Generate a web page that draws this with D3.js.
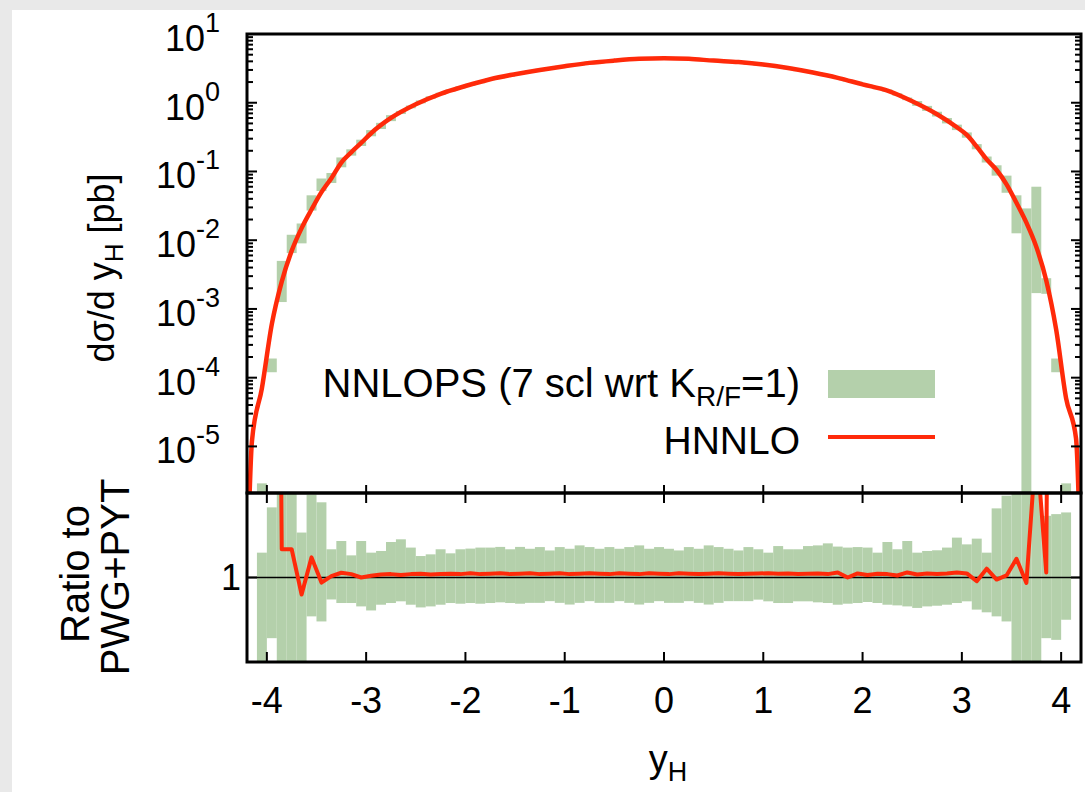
<!DOCTYPE html>
<html>
<head>
<meta charset="utf-8">
<title>Higgs rapidity, NNLOPS vs HNNLO</title>
<script src="https://cdnjs.cloudflare.com/ajax/libs/d3/7.8.5/d3.min.js"></script>
<style>
  body{margin:0;background:#e9e9e9;}
  svg{display:block;}
  text{font-family:"Liberation Sans",Arial,Helvetica,sans-serif;fill:#000;}
</style>
</head>
<body>
<div id="chart"></div>
<script>
// bins of y_H (left edges, width 0.1)
var binLo = [
  -4.2,-4.1,-4.0,-3.9,-3.8,-3.7,-3.6,-3.5,-3.4,-3.3,
  -3.2,-3.1,-3.0,-2.9,-2.8,-2.7,-2.6,-2.5,-2.4,-2.3,
  -2.2,-2.1,-2.0,-1.9,-1.8,-1.7,-1.6,-1.5,-1.4,-1.3,
  -1.2,-1.1,-1.0,-0.9,-0.8,-0.7,-0.6,-0.5,-0.4,-0.3,
  -0.2,-0.1, 0.0, 0.1, 0.2, 0.3, 0.4, 0.5, 0.6, 0.7,
   0.8, 0.9, 1.0, 1.1, 1.2, 1.3, 1.4, 1.5, 1.6, 1.7,
   1.8, 1.9, 2.0, 2.1, 2.2, 2.3, 2.4, 2.5, 2.6, 2.7,
   2.8, 2.9, 3.0, 3.1, 3.2, 3.3, 3.4, 3.5, 3.6, 3.7,
   3.8, 3.9, 4.0, 4.1];
var binW = 0.1;

// NNLOPS scale band, dsigma/dy [pb]
var nnlopsLo = [
  null,1e-9,1.2e-4,1.26e-3,6.5e-3,9e-3,0.027,0.052,0.068,0.115,
  0.17,0.235,0.325,0.415,0.54,0.685,0.83,0.98,1.14,1.3,
  1.45,1.6,1.76,1.92,2.11,2.26,2.4,2.57,2.73,2.88,
  3.02,3.19,3.34,3.48,3.65,3.74,3.87,3.98,4.08,4.18,
  4.22,4.26,4.26,4.22,4.18,4.08,3.98,3.89,3.79,3.74,
  3.55,3.46,3.31,3.19,3.07,2.88,2.74,2.54,2.37,2.21,
  2.02,1.87,1.71,1.57,1.44,1.27,1.09,0.9,0.76,0.63,
  0.5,0.4,0.31,0.21,0.135,0.087,0.049,0.0126,1e-9,1.7e-3,
  1.66e-3,1.2e-4,1e-9,null];
var nnlopsHi = [
  null,2.9e-6,1.9e-4,5e-3,0.012,0.0175,0.045,0.079,0.095,0.16,
  0.21,0.29,0.40,0.51,0.66,0.76,0.91,1.08,1.24,1.4,
  1.57,1.74,1.9,2.08,2.29,2.44,2.6,2.79,2.95,3.12,
  3.28,3.45,3.62,3.76,3.95,4.06,4.19,4.32,4.42,4.52,
  4.58,4.62,4.62,4.58,4.52,4.42,4.32,4.21,4.11,4.06,
  3.85,3.74,3.59,3.45,3.33,3.12,2.96,2.76,2.57,2.39,
  2.18,2.03,1.85,1.71,1.56,1.37,1.19,1.06,0.9,0.74,
  0.6,0.48,0.37,0.25,0.165,0.123,0.087,0.045,0.029,0.06,
  2.8e-3,1.9e-4,2.9e-6,null];

// HNNLO curve, dsigma/dy [pb]
var hnnloY = [-4.2,-4.15,-4.05,-3.95,-3.85,-3.75,-3.65,-3.55,-3.45,-3.35,-3.25,-3.15,-3.05,-2.95,
  -2.75,-2.5,-2.25,-2,-1.75,-1.5,-1.25,-1,-0.75,-0.5,-0.25,0,0.25,0.5,0.75,1,1.25,1.5,1.75,2,2.25,2.5,2.75,
  2.95,3.05,3.15,3.25,3.35,3.45,3.55,3.65,3.75,3.85,3.95,4.05,4.15,4.2];
var hnnloV = [1e-7,1.2e-5,7e-5,6e-4,2.5e-3,7e-3,0.015,0.028,0.05,0.08,0.135,0.19,0.26,0.36,
  0.6,0.95,1.35,1.75,2.2,2.6,3.0,3.4,3.8,4.1,4.35,4.45,4.35,4.1,3.9,3.6,3.2,2.75,2.3,1.85,1.5,1.05,0.68,
  0.44,0.34,0.23,0.15,0.105,0.065,0.035,0.018,8e-3,2.6e-3,5e-4,5e-5,1.3e-5,1e-7];

// ratio to PWG+PYT: NNLOPS band and HNNLO (bin centres)
var ratioLo = [
  null,0,0.641,0,0,0,0.77,0.74,0.87,0.849,
  0.849,0.829,0.805,0.839,0.849,0.859,0.839,0.823,0.829,0.839,
  0.849,0.845,0.849,0.845,0.849,0.853,0.849,0.845,0.85,0.85,
  0.86,0.85,0.84,0.85,0.86,0.85,0.85,0.86,0.85,0.84,
  0.85,0.86,0.85,0.85,0.86,0.85,0.84,0.85,0.86,0.86,
  0.86,0.869,0.859,0.849,0.849,0.859,0.859,0.853,0.849,0.839,
  0.845,0.849,0.855,0.849,0.839,0.835,0.829,0.82,0.829,0.833,
  0.839,0.849,0.859,0.81,0.794,0.77,0.74,0,0,0,
  0.641,0.631,0.75,null];
var ratioHi = [
  null,1.147,1.415,2,2,1.266,1.49,1.445,1.167,1.216,
  1.131,1.216,1.147,1.157,1.21,1.226,1.177,1.127,1.137,1.167,
  1.143,1.167,1.171,1.177,1.177,1.181,1.167,1.181,1.17,1.18,
  1.16,1.18,1.17,1.19,1.18,1.17,1.18,1.17,1.18,1.19,
  1.17,1.18,1.17,1.16,1.18,1.17,1.19,1.18,1.17,1.16,
  1.18,1.167,1.147,1.186,1.167,1.167,1.186,1.19,1.202,1.183,
  1.177,1.18,1.177,1.147,1.21,1.167,1.216,1.147,1.157,1.161,
  1.177,1.236,1.196,1.23,1.147,1.409,1.484,2,2,2,
  1.365,1.375,1.385,null];
var ratioHnnlo = [
  8,8,8,1.167,1.167,0.899,1.119,0.97,1.008,1.028,
  1.02,1.0,1.01,1.018,1.02,1.015,1.02,1.022,1.018,1.02,
  1.022,1.02,1.025,1.02,1.022,1.025,1.02,1.022,1.025,1.02,
  1.022,1.025,1.02,1.022,1.025,1.022,1.02,1.025,1.022,1.02,
  1.025,1.022,1.02,1.025,1.022,1.02,1.022,1.025,1.022,1.02,
  1.022,1.024,1.025,1.022,1.024,1.02,1.022,1.024,1.02,1.03,
  1.0,1.024,1.015,1.022,1.02,1.012,1.03,1.018,1.024,1.02,
  1.024,1.03,1.024,0.978,1.052,0.988,1.012,1.111,0.968,1.8,
  1.03,10,10,10];

var xTicks = [-4,-3,-2,-1,0,1,2,3,4];
var yDecades = [-5,-4,-3,-2,-1,0,1];

var W = 1085, H = 792;
var green = "#b4d0ab", red = "#ff2a0a";

var svg = d3.select("#chart").append("svg")
  .attr("width", W).attr("height", H);
svg.append("rect").attr("width", W).attr("height", H).attr("fill", "#e9e9e9");
svg.append("rect").attr("x", 12).attr("y", 10).attr("width", W-12).attr("height", H-10).attr("fill", "#fff");

var left = 247, right = 1081, top1 = 34, mid = 493, bot = 662;
var x = d3.scaleLinear().domain([-4.2, 4.2]).range([left, right]);
var yTop = d3.scaleLog().domain([2.1e-6, 10]).range([mid, top1]);
var yRat = d3.scaleLinear().domain([0.5, 1.5]).range([bot, mid]);

var defs = svg.append("defs");
defs.append("clipPath").attr("id","clipTop").append("rect")
  .attr("x", left).attr("y", top1).attr("width", right-left).attr("height", mid-top1);
defs.append("clipPath").attr("id","clipRat").append("rect")
  .attr("x", left).attr("y", mid).attr("width", right-left).attr("height", bot-mid);

// ---- top panel
var gTop = svg.append("g").attr("clip-path","url(#clipTop)");
var idx = d3.range(binLo.length);
gTop.selectAll("rect.band").data(idx.filter(function(i){return nnlopsHi[i] != null;}))
  .enter().append("rect").attr("class","band")
  .attr("x", function(i){return x(binLo[i]);})
  .attr("width", function(i){return x(binLo[i]+binW)-x(binLo[i]);})
  .attr("y", function(i){return yTop(nnlopsHi[i]);})
  .attr("height", function(i){return Math.min(yTop(nnlopsLo[i]), 2000)-yTop(nnlopsHi[i]);})
  .attr("fill", green);

var lineTop = d3.line()
  .x(function(d,i){return x(hnnloY[i]);})
  .y(function(d){return Math.min(yTop(d), 2000);})
  .curve(d3.curveMonotoneX);
gTop.append("path").datum(hnnloV).attr("d", lineTop)
  .attr("fill","none").attr("stroke", red).attr("stroke-width", 4.5).attr("stroke-linejoin","round");

// ---- ratio panel
var gRat = svg.append("g").attr("clip-path","url(#clipRat)");
gRat.selectAll("rect.rband").data(idx.filter(function(i){return ratioHi[i] != null;}))
  .enter().append("rect").attr("class","rband")
  .attr("x", function(i){return x(binLo[i]);})
  .attr("width", function(i){return x(binLo[i]+binW)-x(binLo[i]);})
  .attr("y", function(i){return yRat(ratioHi[i]);})
  .attr("height", function(i){return yRat(ratioLo[i])-yRat(ratioHi[i]);})
  .attr("fill", green);

gRat.append("line").attr("x1", left).attr("x2", right)
  .attr("y1", yRat(1)).attr("y2", yRat(1)).attr("stroke","#000").attr("stroke-width",1.5);

var lineRat = d3.line()
  .x(function(d,i){return x(binLo[i]+binW/2);})
  .y(function(d){return yRat(d);});
gRat.append("path").datum(ratioHnnlo).attr("d", lineRat)
  .attr("fill","none").attr("stroke", red).attr("stroke-width", 4).attr("stroke-linejoin","round");

// ---- axes / ticks
var axes = svg.append("g").attr("stroke","#000").attr("stroke-width",2);
// log ticks, both sides of top panel
yDecades.forEach(function(e){
  for (var m = 1; m <= 9; m++) {
    var v = m*Math.pow(10,e);
    if (v < yTop.domain()[0] || v > yTop.domain()[1]) continue;
    var len = m === 1 ? 10 : 6, yy = yTop(v);
    axes.append("line").attr("x1", left).attr("x2", left+len).attr("y1", yy).attr("y2", yy);
    axes.append("line").attr("x1", right).attr("x2", right-len).attr("y1", yy).attr("y2", yy);
  }
});
xTicks.forEach(function(t){
  var xx = x(t);
  axes.append("line").attr("x1", xx).attr("x2", xx).attr("y1", mid).attr("y2", mid-8);
  axes.append("line").attr("x1", xx).attr("x2", xx).attr("y1", mid).attr("y2", mid+10);
  axes.append("line").attr("x1", xx).attr("x2", xx).attr("y1", bot).attr("y2", bot-10);
});
axes.append("line").attr("x1", left).attr("x2", left+10).attr("y1", yRat(1)).attr("y2", yRat(1));
axes.append("line").attr("x1", right).attr("x2", right-10).attr("y1", yRat(1)).attr("y2", yRat(1));

// frames
svg.append("rect").attr("x", left).attr("y", top1).attr("width", right-left).attr("height", mid-top1)
  .attr("fill","none").attr("stroke","#000").attr("stroke-width",3);
svg.append("rect").attr("x", left).attr("y", mid).attr("width", right-left).attr("height", bot-mid)
  .attr("fill","none").attr("stroke","#000").attr("stroke-width",3);

// tick labels
yDecades.forEach(function(e){
  var t = svg.append("text").attr("x", 220).attr("y", yTop(Math.pow(10,e))+17)
    .attr("text-anchor","end").style("font-size","36px");
  t.append("tspan").text("10");
  t.append("tspan").attr("dy", -19).style("font-size","27px").text(String(e));
});
svg.append("text").attr("x", 241).attr("y", yRat(1)+12).attr("text-anchor","end")
  .style("font-size","36px").text("1");
svg.selectAll("text.xl").data(xTicks).enter().append("text").attr("class","xl")
  .attr("x", function(d){return x(d);}).attr("y", 713).attr("text-anchor","middle")
  .style("font-size","36px").text(function(d){return String(d);});

// axis titles
var yt = svg.append("text").attr("transform","translate(114,268) rotate(-90)")
  .attr("text-anchor","middle").style("font-size","36px");
yt.append("tspan").text("d\u03c3/d y");
yt.append("tspan").attr("dy", 9).style("font-size","26px").text("H");
yt.append("tspan").attr("dy", -9).text(" [pb]");

svg.append("text").attr("transform","translate(89,574) rotate(-90)")
  .attr("text-anchor","middle").style("font-size","40px").text("Ratio to");
svg.append("text").attr("transform","translate(129,577) rotate(-90)")
  .attr("text-anchor","middle").style("font-size","40px").text("PWG+PYT");

var xt = svg.append("text").attr("x", 668).attr("y", 772).attr("text-anchor","middle").style("font-size","38px");
xt.append("tspan").text("y");
xt.append("tspan").attr("dy", 9).style("font-size","27px").text("H");

// legend
var lg1 = svg.append("text").attr("x", 800).attr("y", 397).attr("text-anchor","end").style("font-size","40px");
lg1.append("tspan").text("NNLOPS (7 scl wrt K");
lg1.append("tspan").attr("dy", 9).style("font-size","28px").text("R/F");
lg1.append("tspan").attr("dy", -9).text("=1)");
svg.append("rect").attr("x", 828).attr("y", 370).attr("width", 107).attr("height", 28).attr("fill", green);
svg.append("text").attr("x", 800).attr("y", 454).attr("text-anchor","end").style("font-size","39px").text("HNNLO");
svg.append("line").attr("x1", 828).attr("x2", 935).attr("y1", 437).attr("y2", 437)
  .attr("stroke", red).attr("stroke-width", 4);
</script>
</body>
</html>
